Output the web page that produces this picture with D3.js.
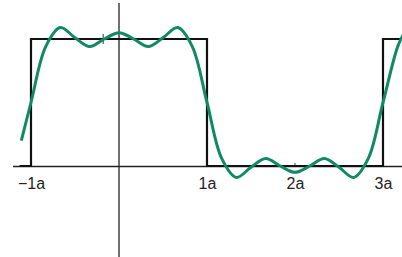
<!DOCTYPE html>
<html>
<head>
<meta charset="utf-8">
<script src="https://cdn.jsdelivr.net/npm/d3@7"></script>
<style>
  html, body { margin: 0; padding: 0; background: #fff; }
  svg { display: block; }
</style>
</head>
<body>
<div id="chart"></div>
<script>
// square wave, x in units of a, level 0 = low, 1 = high
var squareX = [-1.13, -1, -1, 1, 1, 3, 3, 3.25];
var squareY = [0, 0, 1, 1, 0, 0, 1, 1];

// green approximation
var approxX = [-1.11, -1, -0.833, -0.667, -0.5, -0.333, -0.167, 0, 0.167, 0.333, 0.5, 0.667, 0.833,
  1, 1.167, 1.333, 1.5, 1.667, 1.833, 2, 2.167, 2.333, 2.5, 2.667, 2.833, 3, 3.167, 3.25];
var approxY = [0.2, 0.5, 0.94, 1.09, 1.01, 0.94, 1.0, 1.05, 1.0, 0.94, 1.01, 1.09, 0.94,
  0.5, 0.06, -0.09, -0.01, 0.06, 0.0, -0.05, 0.0, 0.06, -0.01, -0.09, 0.06, 0.5, 0.94, 1.06];

var tickValues = [-1, 1, 2, 3];
var tickLabels = ["\u22121a", "1a", "2a", "3a"];

var w = 402;
var h = 257;

var x = d3.scaleLinear().domain([-1, 3]).range([31, 383]);
var y = d3.scaleLinear().domain([0, 1]).range([166, 39]);

var svg = d3.select('#chart').append('svg')
  .attr('width', w)
  .attr('height', h);

// axes lines
svg.append('line')
  .attr('x1', 13).attr('x2', w)
  .attr('y1', y(0) + 0.5).attr('y2', y(0) + 0.5)
  .attr('stroke', '#222').attr('stroke-width', 1.3);

svg.append('line')
  .attr('x1', x(0)).attr('x2', x(0))
  .attr('y1', 3).attr('y2', h)
  .attr('stroke', '#222').attr('stroke-width', 1.3);

// tick labels
var axis = d3.axisBottom(x)
  .tickValues(tickValues)
  .tickSize(0)
  .tickPadding(12)
  .tickFormat(function(d, i) { return tickLabels[i]; });

var g = svg.append('g')
  .attr('transform', 'translate(0,' + y(0) + ')')
  .call(axis);
g.select('.domain').remove();
g.selectAll('text')
  .attr('font-family', 'Liberation Sans, Arial, sans-serif')
  .attr('font-size', 16)
  .attr('fill', '#222');

// tiny marks
svg.append('line')
  .attr('x1', x(2)).attr('x2', x(2))
  .attr('y1', y(0) - 3).attr('y2', y(0))
  .attr('stroke', '#444').attr('stroke-width', 1);
svg.append('line')
  .attr('x1', x(-0.18)).attr('x2', x(-0.18))
  .attr('y1', y(1) - 5).attr('y2', y(1) + 5)
  .attr('stroke', '#333').attr('stroke-width', 1);

var square = squareX.map(function(d, i) { return [d, squareY[i]]; });
var approx = approxX.map(function(d, i) { return [d, approxY[i]]; });

var line = d3.line()
  .x(function(d) { return x(d[0]); })
  .y(function(d) { return y(d[1]); });

svg.append('path')
  .datum(square)
  .attr('d', line)
  .attr('fill', 'none')
  .attr('stroke', '#111')
  .attr('stroke-width', 2.2);

svg.append('path')
  .datum(approx)
  .attr('d', line.curve(d3.curveCatmullRom.alpha(0.5)))
  .attr('fill', 'none')
  .attr('stroke', '#108a64')
  .attr('stroke-width', 3)
  .attr('stroke-linejoin', 'round');
</script>
</body>
</html>
